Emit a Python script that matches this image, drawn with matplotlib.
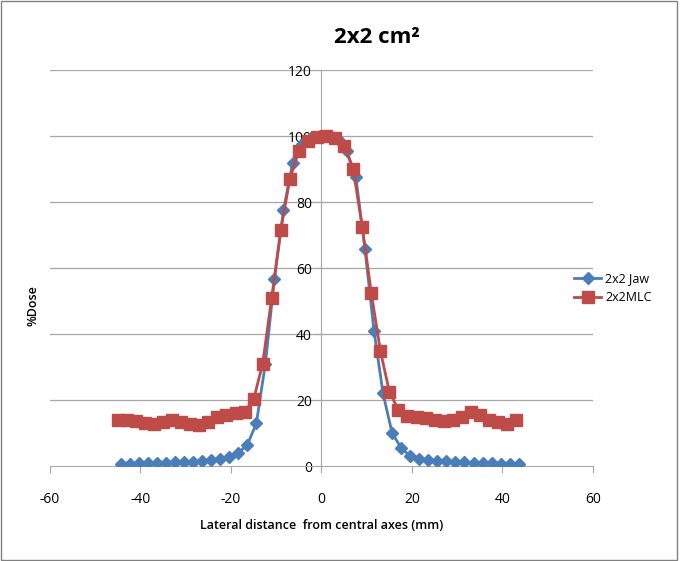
import matplotlib.pyplot as plt
from matplotlib.patches import Rectangle

# lateral positions (mm) and %dose
jaw_x = [-44.4, -42.4, -40.4, -38.4, -36.4, -34.4, -32.4, -30.4, -28.4, -26.4,
         -24.4, -22.4, -20.4, -18.4, -16.4, -14.4, -12.4, -10.4, -8.4, -6.4,
         -4.4, -2.4, -0.4, 1.6, 3.6, 5.6, 7.6, 9.6, 11.6, 13.6,
         15.6, 17.6, 19.6, 21.6, 23.6, 25.6, 27.6, 29.6, 31.6, 33.6,
         35.6, 37.6, 39.6, 41.6, 43.6]
jaw_dose = [0.6, 0.6, 0.8, 0.8, 0.9, 1.0, 1.1, 1.2, 1.3, 1.5,
            1.8, 2.0, 2.6, 4.0, 6.4, 12.9, 31.0, 56.7, 77.5, 91.7,
            97.5, 99.5, 100.0, 100.0, 99.0, 95.5, 87.5, 65.8, 41.0, 22.0,
            10.0, 5.5, 3.0, 2.2, 1.8, 1.5, 1.4, 1.2, 1.1, 1.0,
            0.9, 0.8, 0.7, 0.6, 0.6]

mlc_x = [-45, -43, -41, -39, -37, -35, -33, -31, -29, -27,
         -25, -23, -21, -19, -17, -15, -13, -11, -9, -7,
         -5, -3, -1, 1, 3, 5, 7, 9, 11, 13,
         15, 17, 19, 21, 23, 25, 27, 29, 31, 33,
         35, 37, 39, 41, 43]
mlc_dose = [14.0, 14.0, 13.5, 13.0, 12.8, 13.3, 13.8, 13.4, 12.8, 12.5,
            13.2, 14.8, 15.5, 16.0, 16.5, 20.2, 31.0, 51.0, 71.5, 87.0,
            95.5, 98.5, 99.8, 100.0, 99.5, 97.0, 90.0, 72.5, 52.5, 35.0,
            22.5, 17.0, 15.3, 15.0, 14.5, 14.0, 13.6, 13.8, 15.0, 16.5,
            15.5, 14.0, 13.3, 12.6, 13.8]

x_ticks = [-60, -40, -20, 0, 20, 40, 60]
y_ticks = [0, 20, 40, 60, 80, 100, 120]

plt.rcParams['font.family'] = ['Open Sans', 'DejaVu Sans']
plt.rcParams['axes.unicode_minus'] = False

fig = plt.figure(figsize=(6.82, 5.61), dpi=100)
ax = fig.add_axes([0.0733, 0.1693, 0.7962, 0.7059])

grid_col = '#a6a6a6'
for y in y_ticks[1:]:
    ax.axhline(y, color=grid_col, linewidth=0.9, zorder=0)

ax.plot(jaw_x, jaw_dose, color='#4a7ebb', linewidth=2, marker='D',
        markersize=6, label='2x2 Jaw', zorder=3)
ax.plot(mlc_x, mlc_dose, color='#be4b48', linewidth=2, marker='s',
        markersize=8, label='2x2MLC', zorder=4)

ax.set_xlim(-60, 60)
ax.set_ylim(0, 120)
ax.set_xticks(x_ticks)
ax.set_yticks(y_ticks)

ax.spines['top'].set_visible(False)
ax.spines['right'].set_visible(False)
ax.spines['left'].set_position(('data', 0))
ax.spines['left'].set_color(grid_col)
ax.spines['bottom'].set_color(grid_col)
ax.tick_params(axis='x', direction='out', length=5, color=grid_col, pad=14, labelsize=10)
ax.tick_params(axis='y', direction='out', length=5, color=grid_col, pad=2, labelsize=10)

ax.set_xlabel('Lateral distance  from central axes (mm)', fontsize=9,
              fontweight='semibold', labelpad=8)
fig.text(0.048, 0.455, '%Dose', rotation=90, fontsize=9, fontweight='semibold',
         ha='center', va='center')

fig.text(0.553, 0.933, '2x2 cm²', fontsize=16, fontweight='bold',
         ha='center', va='center')

fig.legend(loc='upper left', bbox_to_anchor=(0.825, 0.535), frameon=False,
           fontsize=9, handlelength=2.2, handletextpad=0.3, labelspacing=0.5)

# thin frame round the chart area
fig.patches.append(Rectangle((0.002, 0.002), 0.9905, 0.996, transform=fig.transFigure,
                             fill=False, edgecolor='#808080', linewidth=1.0))

fig.savefig('out.png', dpi=100)
